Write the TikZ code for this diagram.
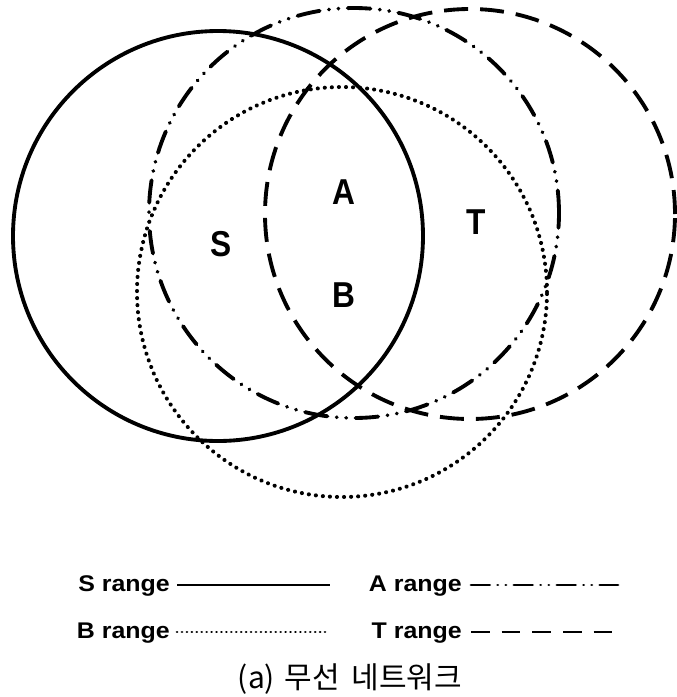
\documentclass[tikz,border=0pt]{standalone}
\usepackage{fontspec}
\setmainfont{Liberation Sans}
\newfontfamily\tagfont[FakeStretch=0.88]{Liberation Sans}
\newfontfamily\keyfont[FakeStretch=1.1]{Liberation Sans}
\newfontfamily\krfont{Noto Sans CJK KR}
\begin{document}
\begin{tikzpicture}[x=0.75pt,y=-0.75pt,
  zone/.style={draw, circle, line width=2.9pt, minimum size=307.5pt, inner sep=0pt, outer sep=0pt},
  tag/.style={font=\tagfont\fontsize{27}{27}\selectfont\bfseries},
  key/.style={font=\keyfont\fontsize{17}{17}\selectfont\bfseries, anchor=base east, inner sep=0pt},
  sline/.style={line width=2.2pt},
  bline/.style={line width=3pt, line cap=round, dash pattern=on 0.1pt off 5.2pt},
  aline/.style={line width=2.9pt, line cap=round, dash pattern=on 17pt off 7pt on 0.1pt off 7pt on 0.1pt off 7pt},
  tline/.style={line width=2.9pt, dash pattern=on 18pt off 9pt}]
\useasboundingbox (0,0) rectangle (676,697);
% the four ranges
\node[zone] (s) at (218,236) {};
\node[zone, aline] (a) at (354,213) {};
\node[zone, bline] (b) at (342,292) {};
\node[zone, tline] (t) at (470,214) {};
\node[tag] (sl) at (221,244) {S};
\node[tag] (al) at (344,192) {A};
\node[tag] (bl) at (344,295) {B};
\node[tag] (tl) at (476,222) {T};
% legend
\node[key] (sk) at (170,591) {S range};
\node[key] (bk) at (170,638) {B range};
\node[key] (ak) at (462,591) {A range};
\node[key] (tk) at (462,638) {T range};
\coordinate (s1) at (177,585);
\coordinate (s2) at (330,585);
\coordinate (b1) at (177,632);
\coordinate (b2) at (325,632);
\coordinate (a1) at (471,585);
\coordinate (a2) at (618,585);
\coordinate (t1) at (471,632);
\coordinate (t2) at (614,632);
\draw[sline] (s1) -- (s2);
\draw[bline, line width=2pt, dash pattern=on 0.1pt off 3.6pt] (b1) -- (b2);
\draw[aline, line width=2.2pt, dash pattern=on 14pt off 6pt on 0.1pt off 6pt on 0.1pt off 6pt] (a1) -- (a2);
\draw[tline, line width=2.2pt, dash pattern=on 14pt off 9pt] (t1) -- (t2);
\node[font=\krfont\fontsize{22.5}{22.5}\selectfont] (cap) at (350,679) {(a)\hspace{7pt}무선\hspace{9pt}네트워크};
\end{tikzpicture}
\end{document}
